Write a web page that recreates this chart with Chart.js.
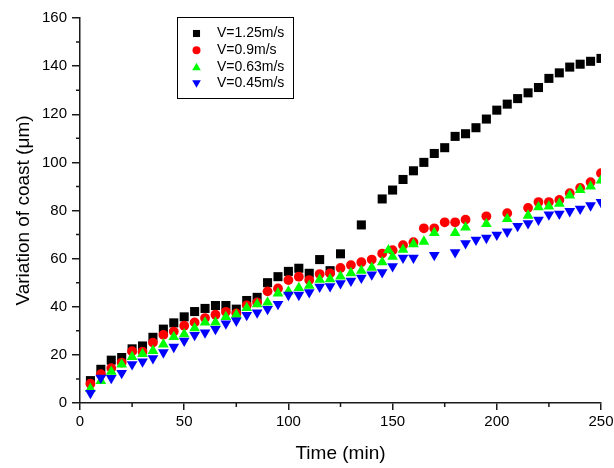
<!DOCTYPE html>
<html>
<head>
<meta charset="UTF-8">
<title>Variation of coast</title>
<script src="https://cdn.jsdelivr.net/npm/chart.js"></script>
<style>
  html, body { margin: 0; padding: 0; background: #fff; }
  canvas { display: block; }
</style>
</head>
<body>
<canvas id="chart" width="614" height="468"></canvas>
<script>
// V = 1.25 m/s
const time125 = [5,10,15,20,25,30,35,40,45,50,55,60,65,70,75,80,85,90,95,100,105,110,115,120,125,135,145,150,155,160,165,170,175,180,185,190,195,200,205,210,215,220,225,230,235,240,245,250];
const coast125 = [9.3,14,17.8,18.9,22.5,23.7,27.3,30.7,33.3,35.8,38,39.3,40.5,40.5,39,42.6,43.9,50,52.5,54.7,56,53.9,59.6,55,62,74,84.8,88.5,92.9,96.5,100,103.7,106.1,110.8,111.9,114.4,118,121.7,124.2,126.5,128.9,131.1,134.9,137.2,139.6,140.8,142,143.2];

// V = 0.9 m/s
const time09 = [5,10,15,20,25,30,35,40,45,50,55,60,65,70,75,80,85,90,95,100,105,110,115,120,125,130,135,140,145,150,155,160,165,170,175,180,185,195,205,215,220,225,230,235,240,245,250];
const coast09 = [8,12,14.5,16.8,21.5,21.3,25.1,28.3,29.7,32.1,33.5,35.3,36.7,37.9,37.2,40.6,41.8,46.4,47.6,51.1,52.5,51.1,53.6,53.9,56.1,57.3,58.5,59.6,62.1,63.5,65.6,66.8,72.6,72.6,75.1,75.1,76.2,77.6,78.9,81.1,83.5,83.5,84.4,87.2,89.4,91.8,95.5];

// V = 0.63 m/s
const time063 = [5,10,15,20,25,30,35,40,45,50,55,60,65,70,75,80,85,90,95,100,105,110,115,120,125,130,135,140,145,148,150,155,160,165,170,180,185,195,205,215,220,225,230,235,240,245,250];
const coast063 = [5.9,9.2,13,16,19.2,20.4,21.7,24.4,27.5,28.6,31.1,33.5,33.5,35.8,36.7,39.5,41.1,41.8,45.6,46.4,47.8,48.8,51.3,51.5,52.6,54,55,56.2,58.5,63.5,60.8,63.7,66,67.1,70.7,70.7,73,74.4,76.5,77.9,81.4,81.7,82.8,86.3,88.6,90,92.5];

// V = 0.45 m/s
const time045 = [5,10,15,20,25,30,35,40,45,50,55,60,65,70,75,80,85,90,95,100,105,110,115,120,125,130,135,140,145,150,155,160,170,180,185,190,195,200,205,210,215,220,225,230,235,240,245,250];
const coast045 = [4.1,10.5,10.4,12.4,16.1,17.2,18.6,21,23.3,25.8,28.2,29.3,30.7,33,34.2,36.5,37.6,39,41.1,44.9,44.9,46,48.3,48.5,49.7,50.8,52,53.4,54.3,56.8,60.3,60.3,61.5,62.6,66.4,67.8,68.6,69.9,71.2,73.5,74.7,76.1,78.3,78.6,79.7,80.7,82.1,83.5];

const xTicks = [0, 50, 100, 150, 200, 250];
const yTicks = [0, 20, 40, 60, 80, 100, 120, 140, 160];

const FONT = 'Arial, "Liberation Sans", sans-serif';
const AXIS = '#1a1a1a';

function pts(xs, ys) {
  return xs.map((x, i) => ({ x: x, y: ys[i] }));
}

// draw one marker like Chart.js point styles
function marker(ctx, style, x, y, r, rot, color) {
  ctx.save();
  ctx.fillStyle = color;
  ctx.translate(x, y);
  ctx.rotate(rot * Math.PI / 180);
  ctx.beginPath();
  if (style === 'rect') {
    const s = r * Math.SQRT1_2;
    ctx.rect(-s, -s, 2 * s, 2 * s);
  } else if (style === 'circle') {
    ctx.arc(0, 0, r, 0, Math.PI * 2);
  } else {
    for (let k = 0; k < 3; k++) {
      const a = k * 2 * Math.PI / 3;
      ctx.lineTo(Math.sin(a) * r, -Math.cos(a) * r);
    }
    ctx.closePath();
  }
  ctx.fill();
  ctx.restore();
}

// minor ticks halfway between the labelled ones
const minorTicks = {
  id: 'minorTicks',
  afterDraw(chart) {
    const ctx = chart.ctx;
    const xs = chart.scales.x, ys = chart.scales.y;
    ctx.save();
    ctx.strokeStyle = AXIS;
    ctx.lineWidth = 1.5;
    ctx.beginPath();
    for (let v = 25; v < 250; v += 50) {
      const px = xs.getPixelForValue(v);
      ctx.moveTo(px, xs.top);
      ctx.lineTo(px, xs.top + 4);
    }
    for (let v = 10; v < 160; v += 20) {
      const py = ys.getPixelForValue(v);
      ctx.moveTo(ys.right, py);
      ctx.lineTo(ys.right - 4, py);
    }
    ctx.stroke();
    ctx.restore();
  }
};

// framed legend inside the plot, like the Origin one
const boxLegend = {
  id: 'boxLegend',
  afterDatasetsDraw(chart) {
    const ctx = chart.ctx;
    ctx.save();
    ctx.strokeStyle = '#000';
    ctx.lineWidth = 1;
    ctx.strokeRect(177.5, 17.5, 116, 81);
    ctx.font = '14px ' + FONT;
    ctx.fillStyle = '#000';
    ctx.textBaseline = 'middle';
    const sizes = { rect: 5, circle: 4, triangle: 5 };
    chart.data.datasets.forEach((ds, i) => {
      const y = 33.5 + i * 16.7;
      marker(ctx, ds.pointStyle, 196.5, y + (ds.pointStyle === 'triangle' ? (ds.rotation ? -0.8 : 0.8) : 0),
        sizes[ds.pointStyle], ds.rotation || 0, ds.backgroundColor);
      ctx.fillText(ds.label, 217, y);
    });
    ctx.restore();
  }
};

Chart.defaults.font.family = FONT;
Chart.defaults.color = '#000';

new Chart(document.getElementById('chart'), {
  type: 'scatter',
  data: {
    datasets: [
      { label: 'V=1.25m/s', data: pts(time125, coast125), pointStyle: 'rect', pointRadius: 6.4,
        backgroundColor: '#000000', borderWidth: 0, order: 4 },
      { label: 'V=0.9m/s', data: pts(time09, coast09), pointStyle: 'circle', pointRadius: 4.9,
        backgroundColor: '#ff0000', borderWidth: 0, order: 3 },
      { label: 'V=0.63m/s', data: pts(time063, coast063), pointStyle: 'triangle', pointRadius: 6.2,
        backgroundColor: '#00ff00', borderWidth: 0, order: 2 },
      { label: 'V=0.45m/s', data: pts(time045, coast045), pointStyle: 'triangle', rotation: 180, pointRadius: 6.2,
        backgroundColor: '#0000ff', borderWidth: 0, order: 1 }
    ]
  },
  options: {
    responsive: false,
    animation: false,
    events: [],
    layout: { padding: { left: 0, right: 13, top: 18, bottom: 0 } },
    plugins: { legend: { display: false }, tooltip: { enabled: false } },
    scales: {
      x: {
        type: 'linear', min: 0, max: 250,
        afterFit: s => { s.height = 65; s.paddingRight = 10; s.paddingLeft = 10; },
        afterBuildTicks: s => { s.ticks = xTicks.map(v => ({ value: v })); },
        ticks: { font: { size: 15 }, padding: 3, color: '#000' },
        grid: { drawOnChartArea: false, tickLength: 7, color: AXIS, lineWidth: 1.5 },
        border: { color: AXIS, width: 1.5 },
        title: { display: true, text: 'Time (min)', font: { size: 19 }, padding: { top: 0, bottom: 3 }, color: '#000' }
      },
      y: {
        type: 'linear', min: 0, max: 160,
        afterFit: s => { s.width = 80; },
        afterBuildTicks: s => { s.ticks = yTicks.map(v => ({ value: v })); },
        ticks: { font: { size: 15 }, padding: 5, color: '#000' },
        grid: { drawOnChartArea: false, tickLength: 8, color: AXIS, lineWidth: 1.5 },
        border: { color: AXIS, width: 1.5 },
        title: { display: true, text: 'Variation of coast (μm)', font: { size: 19 }, padding: { top: 12, bottom: 0 }, color: '#000' }
      }
    }
  },
  plugins: [minorTicks, boxLegend]
});
</script>
</body>
</html>
